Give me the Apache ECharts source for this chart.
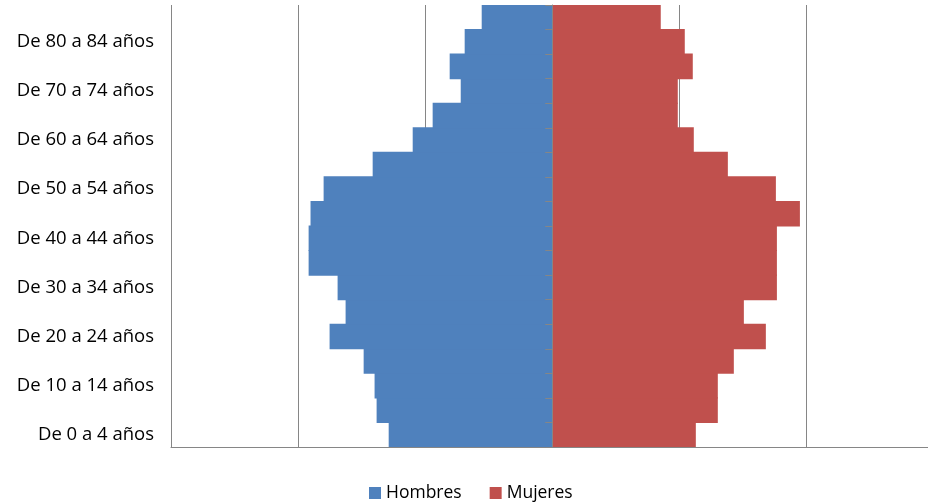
<!DOCTYPE html>
<html>
<head>
<meta charset="utf-8">
<script src="https://cdn.jsdelivr.net/npm/echarts@6/dist/echarts.min.js"></script>
<style>
html,body{margin:0;padding:0;background:#fff;}
#chart{width:928px;height:503px;}
</style>
</head>
<body>
<div id="chart"></div>
<script>
const categories = [
  "De 0 a 4 años","De 5 a 9 años","De 10 a 14 años","De 15 a 19 años",
  "De 20 a 24 años","De 25 a 29 años","De 30 a 34 años","De 35 a 39 años",
  "De 40 a 44 años","De 45 a 49 años","De 50 a 54 años","De 55 a 59 años",
  "De 60 a 64 años","De 65 a 69 años","De 70 a 74 años","De 75 a 79 años",
  "De 80 a 84 años","De 85 y más años"
];
const hombres = [-1287,-1382,-1398,-1484,-1752,-1626,-1689,-1917,-1917,-1902,-1799,-1413,-1098,-941,-720,-807,-689,-555];
const mujeres = [1130,1303,1303,1429,1681,1508,1768,1768,1768,1949,1760,1382,1114,988,988,1106,1043,854];
const seriesNames = ["Hombres","Mujeres"];
const xTicks = {min:-3000, max:2957, interval:1000};

const chart = echarts.init(document.getElementById('chart'), null, {renderer:'canvas'});
const gray = '#868686';
const font = '"Open Sans", sans-serif';
const blue = '#4F81BD', red = '#C0504D';
chart.setOption({
  animation:false,
  textStyle:{fontFamily:font},
  grid:{left:171, right:0, top:5, bottom:56, containLabel:false},
  legend:{
    data:seriesNames,
    left:369, top:484, padding:0,
    icon:'rect', itemWidth:12, itemHeight:12, itemGap:28,
    textStyle:{fontFamily:font, fontSize:17.5, color:'#000'}
  },
  xAxis:{
    type:'value', min:xTicks.min, max:xTicks.max, interval:xTicks.interval,
    axisLabel:{show:false},
    axisTick:{show:false},
    axisLine:{show:true, lineStyle:{color:gray, width:1}},
    splitLine:{show:true, lineStyle:{color:gray, width:1}}
  },
  yAxis:[{
    type:'category', data:categories, position:'left', z:5,
    axisLine:{show:true, onZero:true, lineStyle:{color:gray, width:1}},
    axisTick:{show:true, interval:0, length:7, lineStyle:{color:gray}},
    axisLabel:{show:false},
    splitLine:{show:false}
  },{
    type:'category', data:categories, position:'left',
    axisLine:{show:false, onZero:false},
    axisTick:{show:false},
    axisLabel:{show:true, interval:1, margin:17, fontFamily:font, fontSize:18.5, color:'#000'},
    splitLine:{show:false}
  }],
  series:[{
    name:seriesNames[0], type:'bar', stack:'total', yAxisIndex:0,
    barCategoryGap:0, barWidth:25.6,
    itemStyle:{color:blue},
    data:hombres
  },{
    name:seriesNames[1], type:'bar', stack:'total', yAxisIndex:0,
    barCategoryGap:0, barWidth:25.6,
    itemStyle:{color:red},
    data:mujeres
  }]
});
</script>
</body>
</html>
